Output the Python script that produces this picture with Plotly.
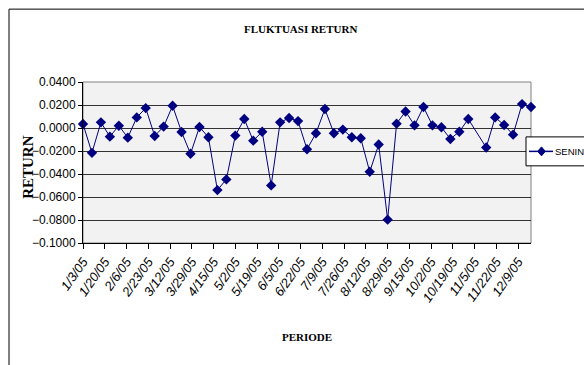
import pandas as pd
import plotly.graph_objects as go

# ---- data (weekly Monday returns, 2005) ----
dates = [
    "2005-01-03", "2005-01-10", "2005-01-17", "2005-01-24", "2005-01-31",
    "2005-02-07", "2005-02-14", "2005-02-21", "2005-02-28",
    "2005-03-07", "2005-03-14", "2005-03-21", "2005-03-28",
    "2005-04-04", "2005-04-11", "2005-04-18", "2005-04-25",
    "2005-05-02", "2005-05-09", "2005-05-16", "2005-05-23", "2005-05-30",
    "2005-06-06", "2005-06-13", "2005-06-20", "2005-06-27",
    "2005-07-04", "2005-07-11", "2005-07-18", "2005-07-25",
    "2005-08-01", "2005-08-08", "2005-08-15", "2005-08-22", "2005-08-29",
    "2005-09-05", "2005-09-12", "2005-09-19", "2005-09-26",
    "2005-10-03", "2005-10-10", "2005-10-17", "2005-10-24", "2005-10-31",
    "2005-11-14", "2005-11-21", "2005-11-28",
    "2005-12-05", "2005-12-12", "2005-12-19",
]
senin = [
    0.0035, -0.0216, 0.0049, -0.0075, 0.0020,
    -0.0084, 0.0092, 0.0173, -0.0069,
    0.0012, 0.0193, -0.0035, -0.0224,
    0.0009, -0.0081, -0.0540, -0.0447,
    -0.0066, 0.0078, -0.0110, -0.0032, -0.0499,
    0.0049, 0.0087, 0.0060, -0.0185,
    -0.0046, 0.0165, -0.0046, -0.0014,
    -0.0081, -0.0089, -0.0381, -0.0144, -0.0797,
    0.0038, 0.0144, 0.0023, 0.0182,
    0.0023, 0.0006, -0.0095, -0.0032, 0.0078,
    -0.0170, 0.0092, 0.0026,
    -0.0058, 0.0208, 0.0182,
]
series_name = "SENIN"
x_tick_labels = [
    "1/3/05", "1/20/05", "2/6/05", "2/23/05", "3/12/05", "3/29/05", "4/15/05",
    "5/2/05", "5/19/05", "6/5/05", "6/22/05", "7/9/05", "7/26/05", "8/12/05",
    "8/29/05", "9/15/05", "10/2/05", "10/19/05", "11/5/05", "11/22/05", "12/9/05",
]
y_ticks = [0.04, 0.02, 0.0, -0.02, -0.04, -0.06, -0.08, -0.10]

x_tick_vals = [pd.to_datetime(s, format="%m/%d/%y").strftime("%Y-%m-%d") for s in x_tick_labels]

SANS = "Liberation Sans, Arial, sans-serif"
SERIF = "Liberation Serif, Times New Roman, serif"
NAVY = "#000080"

fig = go.Figure()
fig.add_trace(go.Scatter(
    x=dates, y=senin, mode="lines+markers", name=series_name,
    line=dict(color=NAVY, width=1),
    marker=dict(symbol="diamond", size=8, color=NAVY),
    cliponaxis=False, showlegend=False,
))

W, H = 584, 365
L, R, T, B = 83, 531, 82, 243.3
pw, ph = R - L, B - T

def px(xp):
    return (xp - L) / pw

def py(yp):
    return (B - yp) / ph

# legend geometry (pixels)
lg_left, lg_top, lg_bot = 526, 137, 166
lg_mid = (lg_top + lg_bot) / 2
mk_x = 541.5
diamond = "M {a},{b} L {c},{d} L {a},{e} L {f},{d} Z".format(
    a=px(mk_x), b=py(lg_mid - 4.5), c=px(mk_x + 3.8), d=py(lg_mid),
    e=py(lg_mid + 4.5), f=px(mk_x - 3.8))

fig.update_layout(
    width=W, height=H,
    margin=dict(l=L, r=W - R, t=T, b=H - B, pad=0, autoexpand=False),
    paper_bgcolor="white",
    plot_bgcolor="#f2f2f2",
    showlegend=False,
    xaxis=dict(
        type="date",
        range=[dates[0], dates[-1]],
        tickvals=x_tick_vals, ticktext=["<i>%s</i>" % t for t in x_tick_labels],
        tickangle=-55,
        tickfont=dict(family=SANS, size=13, color="black"),
        ticks="outside", ticklen=5, tickcolor="black",
        showline=True, linecolor="black", linewidth=1,
        showgrid=False, zeroline=False,
    ),
    yaxis=dict(
        range=[-0.1, 0.04],
        tickvals=y_ticks, tickformat=".4f",
        tickfont=dict(family=SANS, size=12, color="black"),
        ticks="outside", ticklen=4, tickcolor="black",
        showline=True, linecolor="black", linewidth=1,
        showgrid=True, gridcolor="#333333", gridwidth=1,
        zeroline=False,
    ),
    shapes=[
        dict(type="rect", xref="paper", yref="paper", x0=0, x1=1, y0=0, y1=1,
             line=dict(color="#808080", width=1), layer="below"),
        dict(type="rect", xref="paper", yref="paper",
             x0=px(9), x1=px(700), y0=py(500), y1=py(9),
             line=dict(color="black", width=1), fillcolor="rgba(0,0,0,0)"),
        # legend box, sample line and marker
        dict(type="rect", xref="paper", yref="paper",
             x0=px(lg_left), x1=px(700), y0=py(lg_bot), y1=py(lg_top),
             line=dict(color="black", width=1), fillcolor="white", layer="above"),
        dict(type="line", xref="paper", yref="paper",
             x0=px(529), x1=px(553), y0=py(lg_mid), y1=py(lg_mid),
             line=dict(color=NAVY, width=1.5), layer="above"),
        dict(type="path", xref="paper", yref="paper", path=diamond,
             line=dict(color=NAVY, width=1), fillcolor=NAVY, layer="above"),
    ],
    annotations=[
        dict(text="<b>FLUKTUASI RETURN</b>", xref="paper", yref="paper",
             x=px(300), y=py(29), showarrow=False, xanchor="center", yanchor="middle",
             font=dict(family=SERIF, size=11, color="black")),
        dict(text="<b>PERIODE</b>", xref="paper", yref="paper",
             x=px(307), y=py(337), showarrow=False, xanchor="center", yanchor="middle",
             font=dict(family=SERIF, size=11, color="black")),
        dict(text="<b>RETURN</b>", xref="paper", yref="paper",
             x=px(28), y=py(167), showarrow=False, xanchor="center", yanchor="middle",
             textangle=-90,
             font=dict(family=SERIF, size=15, color="black")),
        dict(text=series_name, xref="paper", yref="paper",
             x=px(553), y=py(lg_mid), showarrow=False, xanchor="left", yanchor="middle",
             font=dict(family=SANS, size=9.5, color="black")),
    ],
)

fig.write_html("out.html")
